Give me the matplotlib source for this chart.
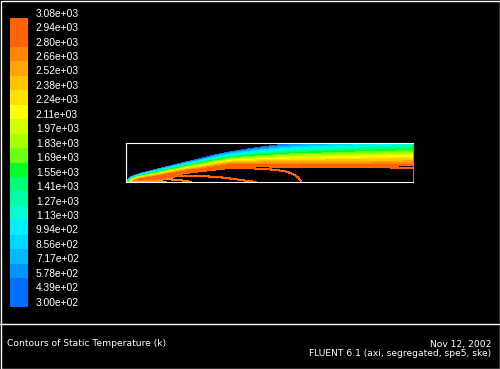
import numpy as np
import matplotlib
matplotlib.use("Agg")
import matplotlib.pyplot as plt
from matplotlib.colors import ListedColormap
from matplotlib.transforms import offset_copy

# ---------------- data ----------------
level_values = [300, 439, 578, 717, 856, 994.5, 1133, 1272, 1411, 1550, 1689,
                1828, 1967, 2106, 2244, 2383, 2522, 2661, 2800, 2939, 3078]
level_labels = ["3.00e+02", "4.39e+02", "5.78e+02", "7.17e+02", "8.56e+02",
                "9.94e+02", "1.13e+03", "1.27e+03", "1.41e+03", "1.55e+03",
                "1.69e+03", "1.83e+03", "1.97e+03", "2.11e+03", "2.24e+03",
                "2.38e+03", "2.52e+03", "2.66e+03", "2.80e+03", "2.94e+03",
                "3.08e+03"]
band_colors = ["#006eff", "#006eff", "#0096ff", "#00b9ff", "#00d7ff",
               "#00f0ff", "#00ffd2", "#00ffaa", "#00ff78", "#00ff28",
               "#6eff14", "#aaff00", "#d2ff00", "#ffff00", "#ffe100",
               "#ffc300", "#ffa50a", "#ff8700", "#ff6400", "#ff6400"]

# axial stations (mm) and read-off shear-layer description
x_station = [0, 5, 10, 20, 32, 45, 60, 75, 90, 105, 120, 136, 150, 165, 177,
             200, 230, 260, 287]
r_cold_edge = [1.0, 4.8, 7.0, 10.0, 13.0, 16.3, 20.0, 23.5, 27.5, 30.5, 33.0,
               35.5, 37.3, 39.0, 40.0, 41.5, 43.5, 45.0, 46.5]
r_hot_edge = [0.2, 1.0, 1.8, 3.0, 4.5, 7.0, 9.5, 11.5, 13.5, 15.5, 15.4, 15.0,
              14.7, 14.5, 14.3, 13.8, 13.4, 13.2, 13.0]
t_peak = [300, 2300, 2750, 2960, 2990, 2990, 2990, 2990, 2990, 2990, 2990,
          2990, 2990, 2990, 2995, 3000, 3005, 3010, 3010]
t_axis = [300, 1200, 1900, 2350, 2460, 2560, 2640, 2700, 2740, 2770, 2790,
          2805, 2850, 2900, 2945, 2990, 3020, 3035, 3040]
t_inlet = 300
domain_length = 287
domain_radius = 39

# ---------------- field ----------------
xg = np.linspace(0, domain_length, 862)
rg = np.linspace(0, domain_radius, 235)
X, R = np.meshgrid(xg, rg)
rc = np.interp(X, x_station, r_cold_edge)
rh = np.interp(X, x_station, r_hot_edge)
tp = np.interp(X, x_station, t_peak)
ta = np.interp(X, x_station, t_axis)
s = np.clip((R - rh) / (rc - rh), 0, 1)
f = np.clip(1 - R / rh, 0, 1)
T = np.where(R >= rh, tp - (tp - t_inlet) * s ** 1.15, tp + (ta - tp) * f ** 0.6)

# ---------------- figure ----------------
W, H = 500, 369
fig = plt.figure(figsize=(W / 100, H / 100), dpi=100, facecolor="black")

# overlay in pixel coords for frame & text
ov = fig.add_axes([0, 0, 1, 1])
ov.set_xlim(0, W)
ov.set_ylim(H, 0)
ov.axis("off")
ov.set_facecolor("black")
ov.plot([0.5, W - 0.5, W - 0.5, 0.5, 0.5], [0.5, 0.5, H - 0.5, H - 0.5, 0.5],
        color="white", lw=1.0, solid_capstyle="butt")
ov.plot([0, W], [323.5, 323.5], color="white", lw=1.0)

fs_small = 6.6
ov.text(7, 344, "Contours of Static Temperature (k)", color="white",
        fontsize=fs_small, family="DejaVu Sans", ha="left", va="center")
ov.text(491, 344, "Nov 12, 2002", color="white", fontsize=fs_small,
        family="DejaVu Sans", ha="right", va="center")
ov.text(491, 353.7, "FLUENT 6.1 (axi, segregated, spe5, ske)", color="white",
        fontsize=fs_small, family="DejaVu Sans", ha="right", va="center")

# colour bar
cax = fig.add_axes([10 / W, (H - 307) / H, 18 / W, 289 / H])
cax.pcolormesh([0, 1], np.arange(len(level_values)),
               np.arange(len(band_colors)).reshape(-1, 1),
               cmap=ListedColormap(band_colors), vmin=-0.5,
               vmax=len(band_colors) - 0.5)
cax.set_xlim(0, 1)
cax.set_ylim(0, len(band_colors))
cax.axis("off")
tr = offset_copy(cax.transData, fig=fig, x=0, y=4.3, units="dots")
for i, lab in enumerate(level_labels):
    cax.text(26 / 18, i, lab, transform=tr, color="white", fontsize=7.4,
             family="Liberation Sans", ha="left", va="center")

# contour plot
ax = fig.add_axes([126 / W, (H - 182) / H, 287 / W, 39 / H])
ax.set_facecolor("black")
ax.contour(X, R, T, levels=level_values[1:20], colors=band_colors[1:20],
           linewidths=0.75, antialiased=False)
ax.set_xlim(0, domain_length)
ax.set_ylim(0, domain_radius)
ax.set_xticks([])
ax.set_yticks([])
for side in ["top", "bottom"]:
    ax.spines[side].set_color("white")
    ax.spines[side].set_linewidth(0.8)
ax.spines["left"].set_color("white")
ax.spines["left"].set_linewidth(0.8)
ax.spines["right"].set_color(band_colors[19])
ax.spines["right"].set_linewidth(0.8)
ax.axvline(0, color=band_colors[0], lw=1.0, ls=(0, (1, 1)), clip_on=False)

fig.savefig("out.png", dpi=100, facecolor="black")
